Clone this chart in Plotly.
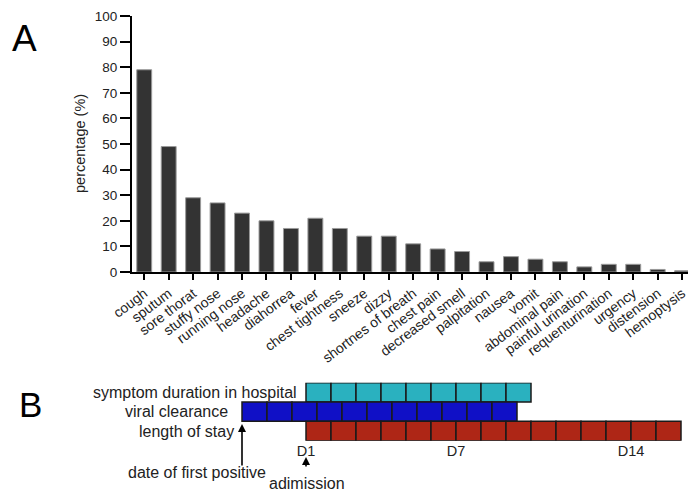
import plotly.graph_objects as go

# ---------- Panel A data ----------
symptoms = ["cough", "sputum", "sore thorat", "stuffy nose", "running nose", "headache",
            "diahorrea", "fever", "chest tightness", "sneeze", "dizzy", "shortnes of breath",
            "chest pain", "decreased smell", "palpitation", "nausea", "vomit", "abdominal pain",
            "painful urination", "requenturination", "urgency", "distension", "hemoptysis"]
percentages = [79, 49, 29, 27, 23, 20, 17, 21, 17, 14, 14, 11, 9, 8, 4, 6, 5, 4, 2, 3, 3, 1, 0.5]
y_ticks = [0, 10, 20, 30, 40, 50, 60, 70, 80, 90, 100]

# ---------- Panel B data ----------
rows = ["symptom duration in hospital", "viral clearance", "length of stay"]
row_days = [9, 11, 15]
row_start = [0, -2.56, 0]          # days relative to admission (D1)
row_colors = ["#2ab1bf", "#1010c6", "#ae2616"]
day_tickvals = [0, 6, 13]
day_ticktext = ["D1", "D7", "D14"]

W, H = 688, 491
def px_x(p): return p / W
def px_y(p): return 1 - p / H

FONT = "Liberation Sans, Arial, sans-serif"

fig = go.Figure()

fig.add_trace(go.Bar(
    x=symptoms, y=percentages, xaxis="x", yaxis="y",
    marker=dict(color="#333333", line=dict(color="#9a9a9a", width=1)),
    showlegend=False,
))

for name, n, start, col in zip(rows, row_days, row_start, row_colors):
    fig.add_trace(go.Bar(
        y=[name] * n, x=[1] * n, base=[start + i for i in range(n)],
        orientation="h", xaxis="x2", yaxis="y2", width=1.0,
        marker=dict(color=col, line=dict(color="#1a1a1a", width=1.5)),
        showlegend=False,
    ))

fig.update_layout(
    template="none",
    width=W, height=H,
    margin=dict(l=0, r=0, t=0, b=0, autoexpand=False),
    paper_bgcolor="white", plot_bgcolor="white",
    font=dict(family=FONT, color="#222222"),
    barmode="overlay", bargap=0.39,
    xaxis=dict(domain=[px_x(132), 1], range=[-0.5, 22.24], type="category",
               showline=True, linewidth=2, linecolor="black",
               ticks="outside", ticklen=6, tickwidth=2, tickcolor="black",
               tickangle=-37, tickfont=dict(size=14, color="#222"),
               showgrid=False, zeroline=False, automargin=False, anchor="y"),
    yaxis=dict(domain=[px_y(272), px_y(16)], range=[0, 100], tickvals=y_ticks,
               showline=True, linewidth=2, linecolor="black",
               ticks="outside", ticklen=10, tickwidth=2, tickcolor="black",
               tickfont=dict(size=13.5, color="#222"), showgrid=False, zeroline=False,
               automargin=False, anchor="x"),
    xaxis2=dict(domain=[0, 1], range=[-306 / 25, (W - 306) / 25],
                showline=False, showgrid=False, zeroline=False, ticks="",
                tickvals=day_tickvals, ticktext=day_ticktext,
                tickfont=dict(size=14.5, color="#222"), automargin=False, anchor="y2"),
    yaxis2=dict(domain=[px_y(440.7), px_y(382.7)], range=[-0.5, 2.5],
                categoryorder="array", categoryarray=rows[::-1],
                showticklabels=False, showline=False, showgrid=False, zeroline=False,
                ticks="", automargin=False, anchor="x2"),
)

ann = []
def txt(text, x, y, size, xref="paper", yref="paper", xanchor="center", yanchor="middle", **kw):
    ann.append(dict(text=text, x=x, y=y, xref=xref, yref=yref, xanchor=xanchor,
                    yanchor=yanchor, showarrow=False, font=dict(size=size, color=kw.pop("color", "#222")), **kw))

txt("percentage (%)", px_x(80), px_y(144), 14.5, textangle=-90)
txt("A", px_x(24), px_y(38), 37, color="black")
txt("B", px_x(31), px_y(404.5), 35, color="black")

# row labels in panel B
label_gap = [0.28, 0.48, 0.24]
label_x = [row_start[0] - label_gap[0], row_start[1] - label_gap[1], row_start[1] - label_gap[2]]
for name, lx in zip(rows, label_x):
    txt(name, lx, name, 16, xref="x2", yref="y2", xanchor="right")

# arrows
ann.append(dict(text="", x=row_start[1], y=px_y(424), xref="x2", yref="paper",
                ax=0, ay=43, showarrow=True, arrowhead=2, arrowsize=1, arrowwidth=1.6,
                arrowcolor="black"))
ann.append(dict(text="", x=0, y=px_y(457), xref="x2", yref="paper",
                ax=0, ay=11, showarrow=True, arrowhead=2, arrowsize=1, arrowwidth=1.6,
                arrowcolor="black"))
txt("date of first positive", px_x(197), px_y(472.7), 16)
txt("adimission", px_x(306.7), px_y(483), 16)

fig.update_layout(annotations=ann)

fig.write_html("out.html", config={"displayModeBar": False},
               post_script="document.body.style.margin='0';")
